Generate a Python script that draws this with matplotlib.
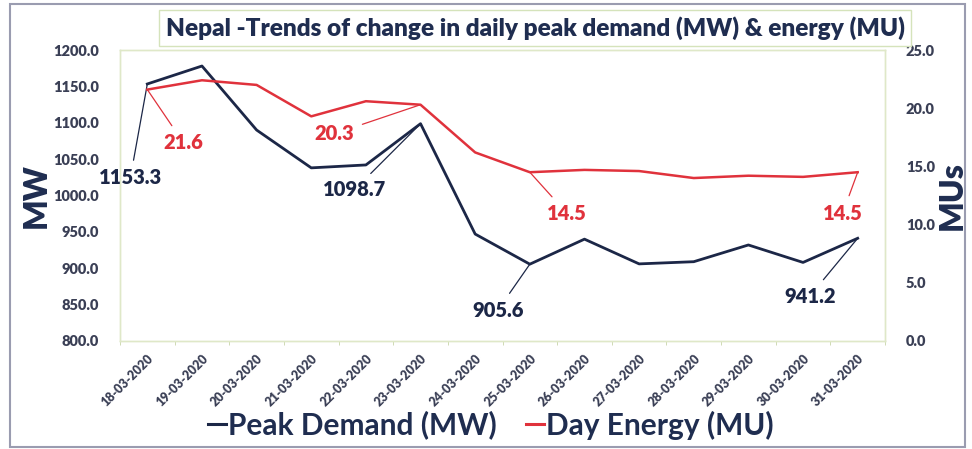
import numpy as np
import matplotlib
matplotlib.use("Agg")
import matplotlib.pyplot as plt
from matplotlib.patches import Rectangle
from matplotlib.lines import Line2D

dates = ["18-03-2020", "19-03-2020", "20-03-2020", "21-03-2020", "22-03-2020",
         "23-03-2020", "24-03-2020", "25-03-2020", "26-03-2020", "27-03-2020",
         "28-03-2020", "29-03-2020", "30-03-2020", "31-03-2020"]
peak_demand = [1153.3, 1178, 1090, 1038, 1042, 1098.7, 947, 905.6, 940, 906, 909, 932, 908, 941.2]
day_energy = [21.6, 22.4, 22.0, 19.3, 20.6, 20.3, 16.2, 14.5, 14.7, 14.6, 14.0, 14.2, 14.1, 14.5]
left_ticks = [800, 850, 900, 950, 1000, 1050, 1100, 1150, 1200]
right_ticks = [0, 5, 10, 15, 20, 25]

NAVY = "#1c2747"
RED = "#e0323c"
TXT = "#1f2d50"
TICK = "#3a3f55"
FONT = "Lato"
W = 800

plt.rcParams['font.family'] = [FONT, 'DejaVu Sans']

fig = plt.figure(figsize=(9.72, 4.49), dpi=100)
fig.patch.set_facecolor("white")
fig.add_artist(Rectangle((10/972, 2/449), 955/972, 443/449, transform=fig.transFigure,
                         fill=False, ec="#9a9cb0", lw=1.5))

ax = fig.add_axes([120/972, 108/449, 765/972, 291/449])
ax2 = ax.twinx()

x = np.arange(len(dates))
ax.plot(x, peak_demand, color=NAVY, lw=2.0, zorder=3)
ax2.plot(x, day_energy, color=RED, lw=1.8, zorder=3)

ax.set_xlim(-0.5, len(dates) - 0.5)
ax.set_ylim(800, 1200)
ax2.set_ylim(0, 25)
ax.set_yticks(left_ticks)
ax.set_yticklabels([f"{v:.1f}" for v in left_ticks], fontsize=10.5, fontweight=W, color=TICK)
ax2.set_yticks(right_ticks)
ax2.set_yticklabels([f"{v:.1f}" for v in right_ticks], fontsize=10.5, fontweight=W, color=TICK)
ax.set_xticks(x)
ax.set_xticklabels(dates, rotation=45, ha="right", va="top", rotation_mode="anchor",
                   fontsize=9, fontweight=W, color=TICK)
ax.set_xticks(np.arange(-0.5, len(dates)), minor=True)
ax.tick_params(axis="x", which="major", length=0, pad=8)
ax.tick_params(axis="x", which="minor", length=3, color="#c8d4a8")
ax.tick_params(axis="y", length=0, pad=15)
ax2.tick_params(axis="y", length=0, pad=15)

for a in (ax, ax2):
    for s in a.spines.values():
        s.set_color("#dfe8c8")
        s.set_linewidth(1.0)

ax.set_ylabel("MW", fontsize=23, fontweight=W, color=TXT, labelpad=2)
ax2.set_ylabel("MUs", fontsize=23, fontweight=W, color=TXT, labelpad=2)

fig.text(535/972, 1 - 28/449, "Nepal -Trends of change in daily peak demand (MW) & energy (MU)",
         ha="center", va="center", fontsize=17.6, fontweight=W, color=TXT,
         bbox=dict(boxstyle="square,pad=0.25", fc="white", ec="#d5e3bb", lw=1))

def label(axis, i, vals, dx, dy, color):
    axis.annotate(f"{vals[i]:.1f}", xy=(x[i], vals[i]), xytext=(dx, dy),
                  textcoords="offset pixels", ha="center", va="center",
                  fontsize=14.5, fontweight=W, color=color, zorder=5,
                  arrowprops=dict(arrowstyle="-", color=color, lw=0.9,
                                  shrinkA=4, shrinkB=0))

label(ax, 0, peak_demand, -17, -94, NAVY)
label(ax, 5, peak_demand, -66, -66, NAVY)
label(ax, 7, peak_demand, -32, -46, NAVY)
label(ax, 13, peak_demand, -48, -58, NAVY)
label(ax2, 0, day_energy, 36, -53, RED)
label(ax2, 5, day_energy, -86, -29, RED)
label(ax2, 7, day_energy, 37, -41, RED)
label(ax2, 13, day_energy, -15, -41, RED)

handles = [Line2D([0], [0], color=NAVY, lw=2.2), Line2D([0], [0], color=RED, lw=2.2)]
leg = fig.legend(handles, ["Peak Demand (MW)", "Day Energy (MU)"], loc="center",
                 bbox_to_anchor=(491/972, 1 - 425/449), ncol=2, frameon=False,
                 handlelength=0.6, handletextpad=0.05, columnspacing=1.0,
                 prop=dict(family=FONT, size=21.5, weight=700))
for t in leg.get_texts():
    t.set_color(TXT)

fig.savefig("out.png", dpi=100, facecolor="white")
